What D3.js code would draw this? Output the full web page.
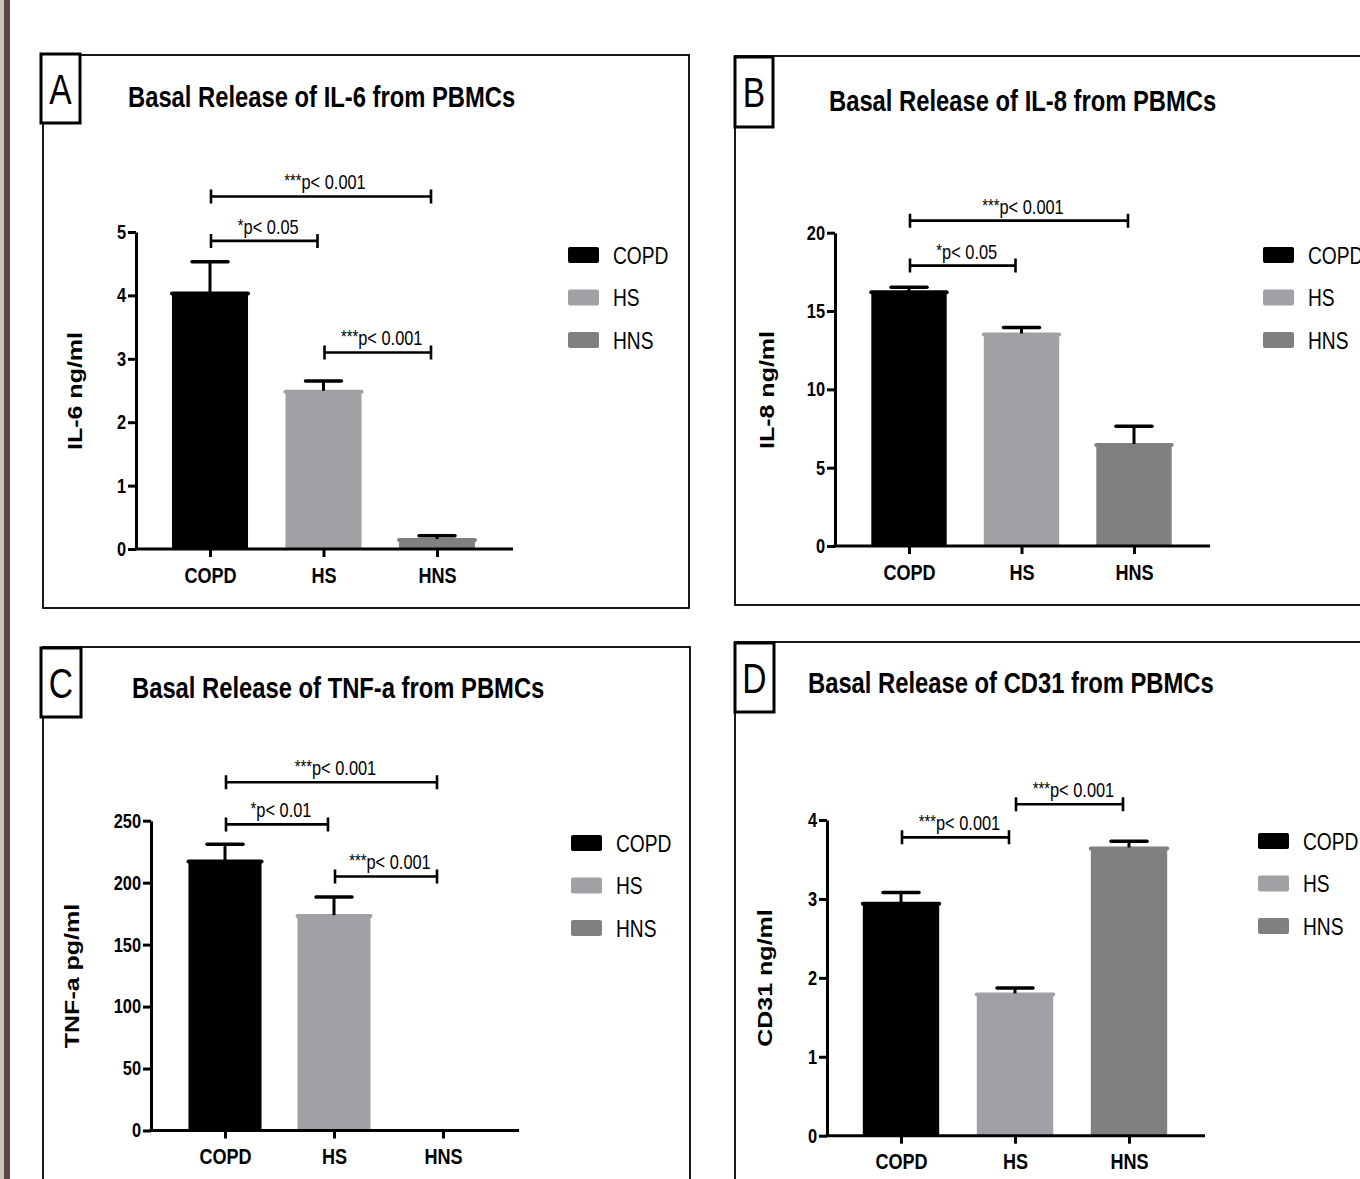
<!DOCTYPE html>
<html>
<head>
<meta charset="utf-8">
<script src="https://cdn.jsdelivr.net/npm/d3@7"></script>
<style>
  body { margin: 0; background: #fff; }
  svg { display: block; }
</style>
</head>
<body>
<script>
// ---- data ----
var cats = ['COPD', 'HS', 'HNS'];

var il6Mean = [4.03, 2.48, 0.14];
var il6Sem = [0.50, 0.17, 0.07];
var il8Mean = [16.2, 13.5, 6.45];
var il8Sem = [0.32, 0.45, 1.20];
var tnfMean = [217, 173, 0];
var tnfSem = [14, 15.5, 0];
var cd31Mean = [2.94, 1.79, 3.64];
var cd31Sem = [0.14, 0.08, 0.09];

var il6Ticks = [0, 1, 2, 3, 4, 5];
var il8Ticks = [0, 5, 10, 15, 20];
var tnfTicks = [0, 50, 100, 150, 200, 250];
var cd31Ticks = [0, 1, 2, 3, 4];

// [from, to, level (data units), stars, text]
var il6Sig = [[0, 2, 5.56, '***', 'p< 0.001'], [0, 1, 4.86, '*', 'p< 0.05'], [1, 2, 3.10, '***', 'p< 0.001']];
var il8Sig = [[0, 2, 20.77, '***', 'p< 0.001'], [0, 1, 17.9, '*', 'p< 0.05']];
var tnfSig = [[0, 2, 281, '***', 'p< 0.001'], [0, 1, 247, '*', 'p< 0.01'], [1, 2, 205, '***', 'p< 0.001']];
var cd31Sig = [[0, 1, 3.78, '***', 'p< 0.001'], [1, 2, 4.2, '***', 'p< 0.001']];

var letters = ['A', 'B', 'C', 'D'];
var titles = ['Basal Release of IL-6 from PBMCs', 'Basal Release of IL-8 from PBMCs',
              'Basal Release of TNF-a from PBMCs', 'Basal Release of CD31 from PBMCs'];
var yTitles = ['IL-6 ng/ml', 'IL-8 ng/ml', 'TNF-a pg/ml', 'CD31 ng/ml'];

var colors = ['#000000', '#a1a1a5', '#808080'];
var FONT = "'Liberation Sans', Arial, sans-serif";

// ---- layout ----
var panels = [
  { mean: il6Mean, sem: il6Sem, ticks: il6Ticks, sig: il6Sig,
    frame: [43, 55, 689, 608], box: [41, 54, 80, 123], title: [128, 106.5],
    yt: [74, 391], ax: 136, xEnd: 513, y0: 549, yTop: 232, leg: [568, 255] },
  { mean: il8Mean, sem: il8Sem, ticks: il8Ticks, sig: il8Sig,
    frame: [735, 56, 1372, 605], box: [735, 57, 773, 127], title: [829, 110.5],
    yt: [766, 390], ax: 835, xEnd: 1210, y0: 546, yTop: 232.7, leg: [1263, 255] },
  { mean: tnfMean, sem: tnfSem, ticks: tnfTicks, sig: tnfSig,
    frame: [43, 647, 690, 1192], box: [41, 648, 81, 717], title: [132, 698],
    yt: [71, 976], ax: 151, xEnd: 519, y0: 1130.5, yTop: 820.7, leg: [571, 843] },
  { mean: cd31Mean, sem: cd31Sem, ticks: cd31Ticks, sig: cd31Sig,
    frame: [735, 642, 1372, 1192], box: [735, 643, 774, 712], title: [808, 692.5],
    yt: [764, 978], ax: 827, xEnd: 1205, y0: 1135.7, yTop: 820, leg: [1258, 841] }
];

var svg = d3.select('body').append('svg')
  .attr('width', 1360)
  .attr('height', 1179)
  .style('font-family', FONT);

svg.append('rect').attr('width', 1360).attr('height', 1179).attr('fill', '#fff');

// brown strip on the left edge
svg.append('rect').attr('x', 0).attr('y', 0).attr('width', 4).attr('height', 1179).attr('fill', '#cbc3bf');
svg.append('rect').attr('x', 4).attr('y', 0).attr('width', 6).attr('height', 1179).attr('fill', '#5b4742');

// squeeze (or stretch) a text node horizontally
function fit(sel, f) {
  sel.each(function() {
    var w = this.getComputedTextLength();
    d3.select(this).attr('textLength', w * f).attr('lengthAdjust', 'spacingAndGlyphs');
  });
}

panels.forEach(function(p, pi) {
  var g = svg.append('g');

  // panel frame
  g.append('rect')
    .attr('x', p.frame[0]).attr('y', p.frame[1])
    .attr('width', p.frame[2] - p.frame[0]).attr('height', p.frame[3] - p.frame[1])
    .attr('fill', 'none').attr('stroke', '#000').attr('stroke-width', 1.8);

  // letter box
  g.append('rect')
    .attr('x', p.box[0]).attr('y', p.box[1])
    .attr('width', p.box[2] - p.box[0]).attr('height', p.box[3] - p.box[1])
    .attr('fill', '#fff').attr('stroke', '#000').attr('stroke-width', 3);
  g.append('text')
    .attr('x', (p.box[0] + p.box[2]) / 2)
    .attr('y', (p.box[1] + p.box[3]) / 2 + 15)
    .attr('text-anchor', 'middle')
    .attr('font-size', 42)
    .text(letters[pi])
    .call(fit, 0.8);

  // title
  g.append('text')
    .attr('x', p.title[0]).attr('y', p.title[1])
    .attr('font-size', 29).attr('font-weight', 'bold')
    .text(titles[pi])
    .call(fit, 0.82);

  // y title
  g.append('text')
    .attr('transform', 'translate(' + p.yt[0] + ',' + p.yt[1] + ') rotate(-90)')
    .attr('text-anchor', 'middle')
    .attr('dy', '0.36em')
    .attr('font-size', 21).attr('font-weight', 'bold')
    .text(yTitles[pi])
    .call(fit, 1.19);

  var y = d3.scaleLinear().domain([0, d3.max(p.ticks)]).range([p.y0, p.yTop]);
  var x = d3.scalePoint().domain(cats).range([p.ax + 74, p.xEnd - 76]);
  var barW = x.step() * 0.67;

  // bars
  var rows = cats.map(function(c, i) { return { c: c, m: p.mean[i], s: p.sem[i], col: colors[i] }; })
    .filter(function(d) { return d.m > 0; });

  g.selectAll('rect.bar').data(rows).enter().append('rect')
    .attr('class', 'bar')
    .attr('x', function(d) { return x(d.c) - barW / 2; })
    .attr('y', function(d) { return y(d.m); })
    .attr('width', barW)
    .attr('height', function(d) { return y(0) - y(d.m); })
    .attr('fill', function(d) { return d.col; });

  g.selectAll('line.top').data(rows).enter().append('line')
    .attr('x1', function(d) { return x(d.c) - barW / 2; })
    .attr('x2', function(d) { return x(d.c) + barW / 2; })
    .attr('y1', function(d) { return y(d.m); })
    .attr('y2', function(d) { return y(d.m); })
    .attr('stroke', function(d) { return d.col; })
    .attr('stroke-width', 4).attr('stroke-linecap', 'round');

  // error bars (upper only)
  g.selectAll('line.err').data(rows).enter().append('line')
    .attr('x1', function(d) { return x(d.c); })
    .attr('x2', function(d) { return x(d.c); })
    .attr('y1', function(d) { return y(d.m) - 1; })
    .attr('y2', function(d) { return y(d.m + d.s); })
    .attr('stroke', '#000').attr('stroke-width', 3);
  g.selectAll('line.cap').data(rows).enter().append('line')
    .attr('x1', function(d) { return x(d.c) - 18; })
    .attr('x2', function(d) { return x(d.c) + 18; })
    .attr('y1', function(d) { return y(d.m + d.s); })
    .attr('y2', function(d) { return y(d.m + d.s); })
    .attr('stroke', '#000').attr('stroke-width', 3.5).attr('stroke-linecap', 'round');

  // y axis
  var yAxis = g.append('g')
    .attr('transform', 'translate(' + p.ax + ',0)')
    .call(d3.axisLeft(y).tickValues(p.ticks).tickFormat(d3.format('d'))
      .tickSize(8).tickSizeOuter(0).tickPadding(2));
  yAxis.selectAll('path, line').attr('stroke', '#000').attr('stroke-width', 3);
  yAxis.selectAll('text')
    .attr('font-family', FONT).attr('font-size', 20).attr('font-weight', 'bold').attr('fill', '#000')
    .call(fit, 0.82);

  // x axis
  g.append('line')
    .attr('x1', p.ax - 1.5).attr('x2', p.xEnd)
    .attr('y1', p.y0).attr('y2', p.y0)
    .attr('stroke', '#000').attr('stroke-width', 3);
  var xAxis = g.append('g')
    .attr('transform', 'translate(0,' + p.y0 + ')')
    .call(d3.axisBottom(x).tickSize(8).tickPadding(10));
  xAxis.select('.domain').remove();
  xAxis.selectAll('line').attr('stroke', '#000').attr('stroke-width', 3);
  xAxis.selectAll('text')
    .attr('font-family', FONT).attr('font-size', 22).attr('font-weight', 'bold').attr('fill', '#000')
    .call(fit, 0.82);

  // significance brackets
  p.sig.forEach(function(s) {
    var x1 = x(cats[s[0]]) + 1, x2 = x(cats[s[1]]) - 6, yl = y(s[2]);
    g.append('path')
      .attr('d', 'M' + x1 + ',' + (yl - 7) + 'V' + (yl + 7) + 'M' + x1 + ',' + yl + 'H' + x2 +
                 'M' + x2 + ',' + (yl - 7) + 'V' + (yl + 7))
      .attr('fill', 'none').attr('stroke', '#000').attr('stroke-width', 2.6);
    var t = g.append('g')
      .attr('transform', 'translate(' + ((x1 + x2) / 2 + 4) + ',' + (yl - 7) + ') scale(0.82,1)')
      .append('text')
      .attr('text-anchor', 'middle')
      .attr('font-size', 20);
    t.append('tspan').attr('font-size', 18).attr('dy', -2).text(s[3]);
    t.append('tspan').attr('dy', 2).text(s[4]);
  });

  // legend
  cats.forEach(function(c, i) {
    var ly = p.leg[1] + i * 42.5;
    g.append('rect')
      .attr('x', p.leg[0]).attr('y', ly - 8)
      .attr('width', 31).attr('height', 16).attr('rx', 2)
      .attr('fill', colors[i]);
    g.append('text')
      .attr('x', p.leg[0] + 45).attr('y', ly + 8.5)
      .attr('font-size', 24)
      .text(c)
      .call(fit, 0.8);
  });
});
</script>
</body>
</html>
